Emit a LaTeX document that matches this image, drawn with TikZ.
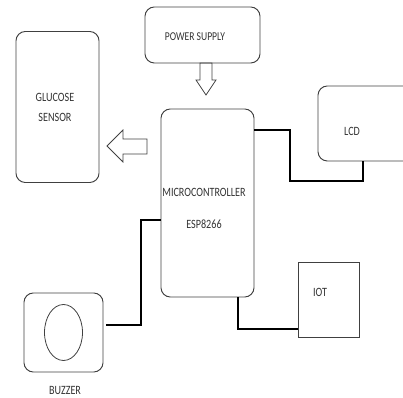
\documentclass[tikz,border=0pt]{standalone}
\usepackage{fontspec}
\setmainfont{Carlito}[FakeStretch=0.8]
\usetikzlibrary{positioning}
\tikzset{
  bloc/.style={draw=black!75, line width=0.7pt, rounded corners=7pt, inner sep=0pt},
  carre/.style={draw=black!75, line width=0.7pt, inner sep=0pt},
  texte/.style={text=black!80, font=\fontsize{9.5}{11}\selectfont, align=center, inner sep=0pt},
  fil/.style={draw=black, line width=1.1pt},
  fleche/.style={draw=black!75, line width=0.6pt}
}
\begin{document}
\begin{tikzpicture}[x=0.75pt, y=-0.75pt]
            \useasboundingbox (0,0) rectangle (403,398);
            % Blocs
            \node[bloc, minimum width=115*0.75pt, minimum height=56*0.75pt] (power) at (202.5,35) {};
            \node[bloc, minimum width=83*0.75pt, minimum height=151*0.75pt] (glucose) at (57.5,107) {};
            \node[bloc, minimum width=93*0.75pt, minimum height=188*0.75pt] (micro) at (207.5,203) {};
            \node[bloc, minimum width=96*0.75pt, minimum height=75*0.75pt] (lcd) at (366,123.5) {};
            \node[carre, minimum width=61*0.75pt, minimum height=75*0.75pt] (iot) at (328.5,299.5) {};
            \node[bloc, minimum width=79*0.75pt, minimum height=79*0.75pt] (buzzer) at (63.5,332.5) {};
            \draw[fleche] (buzzer.center) ellipse [x radius=19*0.75pt, y radius=28*0.75pt];
            % Textes
            \node[texte, font=\fontsize{9}{11}\selectfont] (tpower) at (195,37) {POWER SUPPLY};
            \node[texte] (tglucose) at (55,107.5) {GLUCOSE\\[4.5pt]SENSOR};
            \node[texte] (tmicro) at (204,192.5) {MICROCONTROLLER};
            \node[texte] (tesp) at (204,224.5) {ESP8266};
            \node[texte] (tlcd) at (352,131) {LCD};
            \node[texte] (tiot) at (320,292) {IOT};
            \node[texte] (tbuzzer) at (65,390) {BUZZER};
            % Fleches
            \draw[fleche] (200,63) -- (200,80) -- (196,80) -- (206,95) -- (216,80) -- (212,80) -- (212,63) -- cycle;
            \draw[fleche] (147,139) -- (123,139) -- (123,130) -- (107,146) -- (123,162) -- (123,154) -- (147,154) -- cycle;
            % Liaisons
            \draw[fil] (micro.east |- 0,130) -| (290,181) -| (363,0 |- lcd.south);
            \draw[fil] (micro.south -| 238,0) |- (iot.west |- 0,329);
            \draw[fil] ([xshift=2pt]buzzer.east |- 0,325) -| (141,220) -- (micro.west |- 0,220);
\end{tikzpicture}
\end{document}
